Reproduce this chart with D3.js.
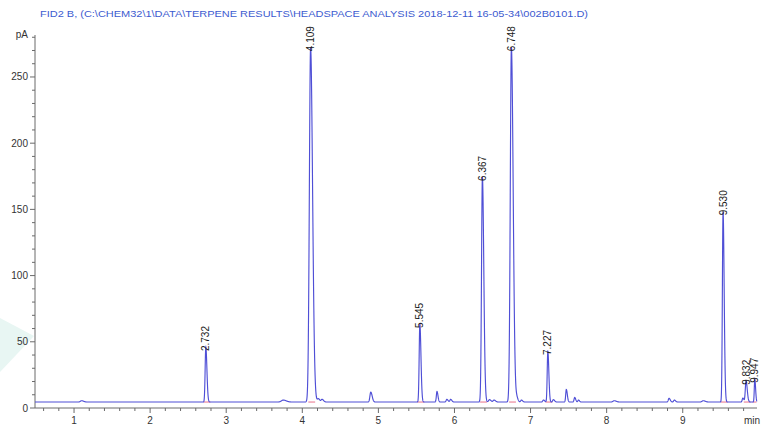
<!DOCTYPE html>
<html><head><meta charset="utf-8">
<script src="https://cdn.jsdelivr.net/npm/d3@7"></script>
<style>body{margin:0;background:#fff}svg{display:block}text{font-family:"Liberation Sans",Arial,sans-serif}</style>
</head><body><svg id="c" width="765" height="428"></svg>
<script>
const title = "FID2 B,  (C:\\CHEM32\\1\\DATA\\TERPENE RESULTS\\HEADSPACE ANALYSIS 2018-12-11 16-05-34\\002B0101.D)";
const baseline = 4.5;
// labelled peaks: retention time (min), height (pA), width (min)
const peakTimes   = [2.732, 4.109, 5.545, 6.367, 6.748, 7.227, 9.530, 9.832, 9.947];
const peakHeights = [41.5, 268, 59, 170, 268, 38.5, 144, 16, 17.5];
const peakWidths  = [0.011, 0.020, 0.011, 0.014, 0.018, 0.010, 0.011, 0.012, 0.008];
const peakLabels  = ["2.732","4.109","5.545","6.367","6.748","7.227","9.530","9.832","9.947"];
// minor unlabelled peaks
const minorTimes   = [1.10, 3.75, 4.21, 4.26, 4.90, 5.77, 5.90, 5.95, 6.46, 6.52, 6.82, 6.88, 7.17, 7.30, 7.47, 7.58, 7.63, 8.10, 8.82, 8.89, 9.27, 9.79];
const minorHeights = [1.0, 1.5, 2.5, 2.0, 7.5, 8.0, 2.0, 2.0, 1.8, 1.5, 3.0, 1.5, 1.5, 1.8, 9.5, 3.5, 1.5, 1.0, 2.8, 1.5, 1.0, 3.0];
const minorWidths  = [0.02, 0.03, 0.015, 0.015, 0.014, 0.010, 0.012, 0.012, 0.015, 0.015, 0.012, 0.012, 0.012, 0.012, 0.010, 0.010, 0.010, 0.02, 0.012, 0.012, 0.02, 0.010];
const xTicks = [1,2,3,4,5,6,7,8,9];
const yTicks = [0,50,100,150,200,250];

const svg = d3.select("#c");
const x = d3.scaleLinear().domain([0.487, 9.976]).range([35, 757]);
const y = d3.scaleLinear().domain([0, 281.7]).range([408, 35]);

// faint watermark
svg.append("path").attr("d","M0,318 L34,336 L0,372 Z").attr("fill","#e8f6f3");

svg.append("text").attr("x",40).attr("y",17).attr("font-size",9.6).attr("fill","#3d5bd0")
  .attr("textLength",548).attr("lengthAdjust","spacingAndGlyphs").text(title);

// axes
const ax = svg.append("g").attr("stroke","#6a6a6a").attr("fill","none");
ax.append("line").attr("x1",35).attr("x2",35).attr("y1",35).attr("y2",408);
ax.append("line").attr("x1",35).attr("x2",757).attr("y1",408).attr("y2",408);
d3.range(0, 281, 10).forEach(v=>{
  const major = v % 50 === 0;
  ax.append("line").attr("x1",35-(major?5:3)).attr("x2",35).attr("y1",y(v)).attr("y2",y(v));
});
d3.range(0.6, 9.98, 0.2).forEach(t=>{
  const major = Math.abs(t-Math.round(t))<1e-6;
  ax.append("line").attr("x1",x(t)).attr("x2",x(t)).attr("y1",408).attr("y2",408+(major?5:3));
});
svg.selectAll("text.yl").data(yTicks).join("text").attr("class","yl")
  .attr("x",28).attr("y",d=>y(d)+3.5).attr("text-anchor","end").attr("font-size",10).attr("fill","#333").text(d=>d);
svg.append("text").attr("x",28).attr("y",38).attr("text-anchor","end").attr("font-size",10).attr("fill","#333").text("pA");
svg.selectAll("text.xl").data(xTicks).join("text").attr("class","xl")
  .attr("x",d=>x(d)).attr("y",424).attr("text-anchor","middle").attr("font-size",10).attr("fill","#333").text(d=>d);
svg.append("text").attr("x",752).attr("y",424).attr("text-anchor","middle").attr("font-size",10).attr("fill","#333").text("min");

// integration baselines
svg.append("g").selectAll("line").data(peakTimes).join("line")
  .attr("x1",d=>x(d-0.03)).attr("x2",d=>x(Math.min(d+0.06,9.97))).attr("y1",y(baseline)).attr("y2",y(baseline))
  .attr("stroke","#e8718a").attr("stroke-width",1);

// trace
const allT = peakTimes.concat(minorTimes), allH = peakHeights.concat(minorHeights), allW = peakWidths.concat(minorWidths);
const ts = d3.range(0.487, 9.976, 0.0015);
const sig = t => {
  let s = baseline;
  for (let i=0;i<allT.length;i++){
    const d = t-allT[i], w = d<0 ? allW[i]*0.8 : allW[i]*1.3;
    s += allH[i]*Math.exp(-0.5*(d/w)*(d/w));
  }
  return s;
};
svg.append("path").datum(ts).attr("fill","none").attr("stroke","#4f4fd6").attr("stroke-width",1.15)
  .attr("d", d3.line().x(t=>x(t)).y(t=>y(sig(t))));

// labels
peakTimes.forEach((t,i)=>{
  const yy = y(peakHeights[i]) - 2;
  svg.append("text").attr("transform",`translate(${x(t)+3.5},${yy}) rotate(-90)`)
    .attr("font-size",10).attr("fill","#1a1a1a").text(peakLabels[i]);
});
</script></body></html>
